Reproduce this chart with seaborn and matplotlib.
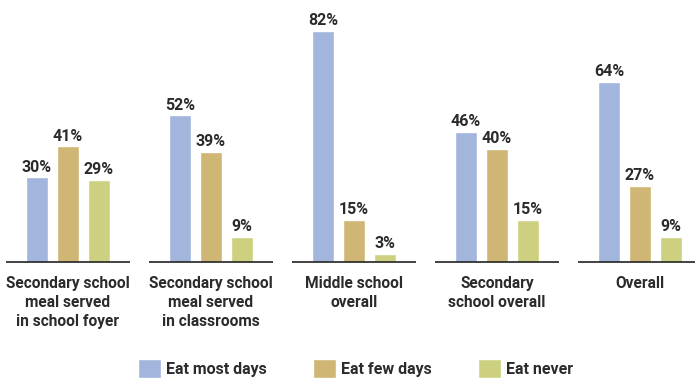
import pandas as pd
import matplotlib.pyplot as plt
import seaborn as sns

# data
groups = ['Secondary school\nmeal served\nin school foyer',
          'Secondary school\nmeal served\nin classrooms',
          'Middle school\noverall',
          'Secondary\nschool overall',
          'Overall']
most_days = [30, 52, 82, 46, 64]
few_days = [41, 39, 15, 40, 27]
never = [29, 9, 3, 15, 9]
series = ['Eat most days', 'Eat few days', 'Eat never']
colors = ['#a2b5dc', '#cfb674', '#cdd17f']

df = pd.DataFrame({'group': groups * 3,
                   'series': [s for s in series for _ in groups],
                   'pct': most_days + few_days + never})

sns.set_style('white')
plt.rcParams['font.family'] = ['Roboto', 'DejaVu Sans']
txt = '#2b2b2b'

fig = plt.figure(figsize=(6.95, 3.81), dpi=100)
ax = fig.add_axes([0, 0.3123, 1, 0.6877])

sns.barplot(data=df, x='group', y='pct', hue='series', palette=colors,
            saturation=1, width=0.65, gap=0.3, ax=ax, legend=True)

ax.set_xlim(-0.4755, 4.385)
ax.set_ylim(0, 92.9)

# value labels
for c in ax.containers:
    ax.bar_label(c, labels=[f'{v:.0f}%' for v in c.datavalues], padding=2,
                 fontsize=11.5, fontweight='bold', color=txt)

# broken baseline under each group
for i in range(len(groups)):
    ax.plot([i - 0.435, i + 0.435], [0, 0], color='#222222', lw=1.2,
            clip_on=False, solid_capstyle='butt')

sns.despine(ax=ax, left=True, bottom=True, top=True, right=True)
ax.set_yticks([])
ax.set_xlabel('')
ax.set_ylabel('')
ax.tick_params(axis='x', length=0, pad=10)
for lab in ax.get_xticklabels():
    lab.set_fontsize(11.2)
    lab.set_fontweight('bold')
    lab.set_color(txt)
    lab.set_linespacing(1.35)

handles, labels = ax.get_legend_handles_labels()
ax.get_legend().remove()
fig.legend(handles, labels, loc='lower center', bbox_to_anchor=(0.512, -0.03),
           ncol=3, frameon=False, handlelength=1.45, handleheight=1.45,
           handletextpad=0.3, columnspacing=2.9,
           prop={'size': 11.5, 'weight': 'bold'}, labelcolor=txt)

fig.savefig('out.png', dpi=100)
